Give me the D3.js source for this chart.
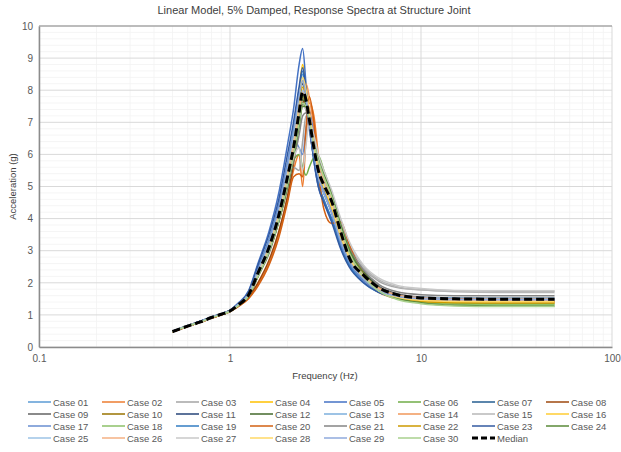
<!DOCTYPE html>
<head>
    <title>Response Spectra</title>
    <script src="https://d3js.org/d3.v7.min.js"></script>
    <style>
        body { margin: 0; background: #fff; }
        svg { font-family: "Liberation Sans", Arial, sans-serif; }
    </style>
</head>

<body>
<script>

// frequencies (Hz) shared by every case
const freq = [0.5,0.6,0.7,0.8,0.9,1.0,1.1,1.25,1.4,1.6,1.8,2.0,2.15,2.3,2.4,2.5,2.6,2.75,2.9,3.1,3.4,3.8,4.2,5.0,6.0,7.5,10,15,25,50];

// spectral acceleration (g) for each case
const case01 = [0.49,0.66,0.80,0.93,1.03,1.14,1.33,1.70,2.45,3.35,4.4,5.7,6.7,7.9,8.5,8.0,7.2,6.0,5.2,4.8,4.3,3.4,2.8,2.15,1.78,1.58,1.48,1.45,1.44,1.44];
const case02 = [0.47,0.64,0.77,0.90,1.00,1.10,1.26,1.52,1.95,2.6,3.5,4.6,5.5,6.0,5.0,6.5,7.6,7.2,6.0,5.0,4.3,3.3,2.6,2.05,1.7,1.5,1.42,1.38,1.37,1.37];
const case03 = [0.48,0.65,0.78,0.92,1.02,1.12,1.29,1.58,2.2,2.9,3.9,4.9,5.6,5.5,6.4,7.2,7.0,6.3,5.7,5.2,4.7,3.8,3.1,2.45,2.05,1.85,1.78,1.75,1.74,1.74];
const case04 = [0.48,0.66,0.79,0.93,1.03,1.13,1.32,1.66,2.4,3.2,4.2,5.5,6.5,7.9,8.8,8.1,7.2,6.1,5.4,4.9,4.3,3.4,2.75,2.1,1.75,1.55,1.46,1.43,1.42,1.42];
const case05 = [0.49,0.67,0.80,0.94,1.04,1.15,1.36,1.75,2.6,3.6,4.8,6.3,7.4,8.8,9.3,8.2,7.0,5.8,5.0,4.5,4.0,3.2,2.6,2.05,1.72,1.55,1.47,1.44,1.43,1.43];
const case06 = [0.48,0.65,0.78,0.91,1.01,1.11,1.28,1.6,2.25,3.0,4.0,5.1,5.8,6.0,5.6,5.35,5.6,5.9,5.95,5.5,4.8,3.7,3.0,2.3,1.82,1.55,1.42,1.36,1.34,1.34];
const case07 = [0.48,0.65,0.79,0.92,1.02,1.13,1.31,1.65,2.35,3.2,4.2,5.4,6.4,7.7,8.3,7.8,7.1,6.2,5.6,5.1,4.5,3.5,2.85,2.2,1.8,1.6,1.52,1.5,1.49,1.49];
const case08 = [0.47,0.64,0.77,0.90,1.0,1.1,1.27,1.55,2.0,2.7,3.6,4.7,5.7,7.0,7.6,7.7,7.4,6.5,5.8,5.2,4.6,3.6,2.9,2.25,1.83,1.6,1.5,1.47,1.46,1.46];
const case09 = [0.48,0.65,0.78,0.91,1.01,1.11,1.28,1.58,2.2,3.0,3.95,5.1,6.0,7.0,7.6,7.4,6.9,6.1,5.6,5.1,4.6,3.7,3.0,2.35,1.9,1.66,1.56,1.53,1.52,1.52];
const case10 = [0.48,0.65,0.79,0.92,1.02,1.12,1.3,1.6,2.3,3.1,4.1,5.2,6.1,7.2,7.8,7.5,7.0,6.2,5.6,5.2,4.6,3.6,2.9,2.2,1.78,1.57,1.47,1.43,1.42,1.42];
const case11 = [0.49,0.66,0.80,0.93,1.03,1.14,1.33,1.68,2.4,3.3,4.3,5.6,6.6,7.8,8.2,7.6,6.8,5.9,5.3,4.8,4.2,3.3,2.7,2.1,1.76,1.57,1.5,1.48,1.47,1.47];
const case12 = [0.48,0.65,0.78,0.92,1.02,1.12,1.3,1.62,2.3,3.1,4.0,5.2,6.1,7.1,7.7,7.6,7.2,6.4,5.8,5.3,4.7,3.8,3.1,2.35,1.85,1.6,1.48,1.44,1.43,1.43];
const case13 = [0.48,0.66,0.79,0.93,1.03,1.13,1.32,1.66,2.4,3.3,4.4,5.7,6.8,8.0,8.4,7.7,6.9,5.9,5.2,4.8,4.3,3.4,2.8,2.2,1.82,1.62,1.55,1.53,1.52,1.52];
const case14 = [0.48,0.65,0.78,0.91,1.01,1.11,1.28,1.6,2.2,3.0,4.0,5.3,6.4,7.6,7.9,8.2,7.8,6.8,5.9,5.3,4.6,3.6,2.9,2.25,1.84,1.62,1.53,1.5,1.49,1.49];
const case15 = [0.48,0.65,0.78,0.92,1.02,1.12,1.3,1.6,2.25,3.05,4.0,5.2,6.0,6.9,7.5,7.4,7.0,6.3,5.8,5.3,4.8,3.9,3.2,2.5,2.1,1.88,1.78,1.72,1.7,1.7];
const case16 = [0.48,0.66,0.79,0.92,1.03,1.13,1.31,1.65,2.35,3.2,4.2,5.5,6.5,7.7,8.3,7.9,7.1,6.0,5.4,4.9,4.3,3.4,2.75,2.15,1.76,1.56,1.47,1.44,1.43,1.43];
const case17 = [0.49,0.66,0.8,0.93,1.03,1.14,1.33,1.68,2.45,3.3,4.4,5.7,6.5,6.2,6.0,6.8,7.3,6.6,5.6,4.9,4.2,3.2,2.6,2.05,1.72,1.55,1.48,1.46,1.45,1.45];
const case18 = [0.48,0.65,0.78,0.91,1.01,1.11,1.29,1.6,2.25,3.05,4.05,5.2,6.1,7.2,7.8,7.7,7.2,6.3,5.7,5.2,4.6,3.6,2.9,2.2,1.76,1.52,1.4,1.34,1.32,1.32];
const case19 = [0.48,0.66,0.79,0.93,1.03,1.13,1.32,1.67,2.4,3.25,4.3,5.6,6.6,7.9,8.6,7.9,7.0,5.9,5.1,4.6,4.0,3.1,2.55,2.0,1.7,1.54,1.48,1.46,1.45,1.45];
const case20 = [0.47,0.64,0.77,0.9,1.0,1.1,1.25,1.5,1.9,2.55,3.4,4.5,5.3,5.4,5.3,6.8,7.8,7.0,5.5,4.3,3.85,3.9,3.2,2.3,1.8,1.55,1.45,1.42,1.41,1.41];
const case21 = [0.48,0.65,0.78,0.92,1.02,1.12,1.29,1.59,2.2,2.95,3.9,5.0,5.8,6.6,7.2,7.3,7.0,6.4,5.9,5.4,4.8,3.8,3.1,2.4,1.95,1.72,1.63,1.6,1.6,1.6];
const case22 = [0.48,0.65,0.79,0.92,1.02,1.12,1.31,1.63,2.3,3.1,4.1,5.3,6.3,7.5,8.1,7.8,7.1,6.1,5.5,5.0,4.4,3.5,2.8,2.15,1.75,1.52,1.42,1.38,1.37,1.37];
const case23 = [0.49,0.66,0.8,0.93,1.03,1.14,1.34,1.72,2.55,3.5,4.6,6.0,7.0,8.1,8.7,8.0,7.0,5.8,5.0,4.5,3.9,3.05,2.5,2.0,1.7,1.55,1.5,1.48,1.47,1.47];
const case24 = [0.48,0.65,0.78,0.91,1.01,1.11,1.28,1.58,2.2,2.95,3.9,5.0,5.9,6.9,7.5,7.5,7.1,6.4,5.9,5.4,4.8,3.8,3.05,2.3,1.8,1.52,1.38,1.3,1.28,1.28];
const case25 = [0.48,0.65,0.78,0.92,1.02,1.12,1.3,1.62,2.3,3.15,4.15,5.4,6.3,7.4,8.0,7.7,7.1,6.2,5.6,5.1,4.5,3.5,2.85,2.2,1.8,1.58,1.5,1.47,1.46,1.46];
const case26 = [0.48,0.65,0.78,0.91,1.01,1.11,1.29,1.6,2.25,3.05,4.05,5.2,6.2,7.3,7.9,7.8,7.3,6.4,5.7,5.2,4.6,3.6,2.9,2.25,1.82,1.6,1.5,1.46,1.45,1.45];
const case27 = [0.48,0.65,0.78,0.92,1.02,1.12,1.3,1.61,2.25,3.0,4.0,5.1,5.9,6.2,5.5,6.3,7.0,6.6,6.0,5.5,4.9,4.0,3.3,2.55,2.15,1.92,1.82,1.76,1.75,1.75];
const case28 = [0.48,0.66,0.79,0.92,1.02,1.13,1.31,1.64,2.35,3.2,4.2,5.5,6.5,7.7,8.4,8.0,7.3,6.2,5.5,5.0,4.4,3.45,2.8,2.15,1.76,1.55,1.46,1.42,1.41,1.41];
const case29 = [0.48,0.66,0.79,0.93,1.03,1.13,1.32,1.66,2.38,3.25,4.3,5.6,6.6,7.8,8.3,7.8,7.0,6.0,5.3,4.8,4.2,3.3,2.7,2.12,1.76,1.58,1.5,1.48,1.47,1.47];
const case30 = [0.48,0.65,0.78,0.91,1.01,1.11,1.28,1.59,2.2,2.98,3.95,5.1,6.0,7.0,7.6,7.5,7.1,6.3,5.8,5.3,4.7,3.7,2.95,2.2,1.75,1.48,1.35,1.28,1.26,1.26];
const median = [0.48,0.65,0.78,0.92,1.02,1.12,1.3,1.62,2.3,3.1,4.1,5.3,6.2,7.3,7.95,7.7,7.1,6.2,5.5,5.05,4.55,3.58,2.8,2.24,1.85,1.63,1.53,1.5,1.49,1.49];

const caseColors = ["#5B9BD5","#ED7D31","#A5A5A5","#FFC000","#4472C4","#70AD47","#255E91","#9E480E","#636363","#997300",
                    "#264478","#43682B","#7CAFDD","#F1975A","#B7B7B7","#FFCD33","#698ED0","#8CC168","#327DC2","#D26012",
                    "#848484","#CC9A00","#335AA1","#5A8A39","#9DC3E6","#F4B183","#C9C9C9","#FFD966","#8FAADC","#A9D18E"];

const xTicks = [0.1, 1, 10, 100];
const yTicks = [0,1,2,3,4,5,6,7,8,9,10];

const cases = [case01,case02,case03,case04,case05,case06,case07,case08,case09,case10,
               case11,case12,case13,case14,case15,case16,case17,case18,case19,case20,
               case21,case22,case23,case24,case25,case26,case27,case28,case29,case30];
const caseNames = cases.map((c, i) => "Case " + String(i + 1).padStart(2, "0"));

const w = 621;
const h = 452;
const plotLeft = 39, plotRight = 612, plotTop = 26, plotBottom = 347;

const svg = d3.select("body")
    .append("svg")
    .attr("width", w)
    .attr("height", h);

// scales
const xScale = d3.scaleLog().domain([0.1, 100]).range([plotLeft, plotRight]);
const yScale = d3.scaleLinear().domain([0, 10]).range([plotBottom, plotTop]);

// minor grid
const xMinor = [];
[0.1, 1, 10].forEach(d => { for (let k = 2; k <= 9; k++) xMinor.push(d * k); });
const yMinor = d3.range(0, 10.01, 0.2).filter(v => Math.abs(v - Math.round(v)) > 0.01);

svg.append("g").selectAll("line").data(xMinor).enter().append("line")
    .attr("x1", d => xScale(d)).attr("x2", d => xScale(d))
    .attr("y1", plotTop).attr("y2", plotBottom)
    .attr("stroke", "#f2f2f2").attr("stroke-width", 0.8);
svg.append("g").selectAll("line").data(yMinor).enter().append("line")
    .attr("x1", plotLeft).attr("x2", plotRight)
    .attr("y1", d => yScale(d)).attr("y2", d => yScale(d))
    .attr("stroke", "#f2f2f2").attr("stroke-width", 0.8);

// major grid
svg.append("g").selectAll("line").data(xTicks).enter().append("line")
    .attr("x1", d => xScale(d)).attr("x2", d => xScale(d))
    .attr("y1", plotTop).attr("y2", plotBottom)
    .attr("stroke", "#d9d9d9").attr("stroke-width", 1);
svg.append("g").selectAll("line").data(yTicks).enter().append("line")
    .attr("x1", plotLeft).attr("x2", plotRight)
    .attr("y1", d => yScale(d)).attr("y2", d => yScale(d))
    .attr("stroke", "#d9d9d9").attr("stroke-width", 1);

// top border
svg.append("line")
    .attr("x1", plotLeft).attr("x2", plotRight).attr("y1", plotTop).attr("y2", plotTop)
    .attr("stroke", "#8c8c8c").attr("stroke-width", 1);

// lines
const line = d3.line()
    .x((d, i) => xScale(freq[i]))
    .y(d => yScale(d))
    .curve(d3.curveMonotoneX);

svg.append("g").selectAll("path").data(cases).enter().append("path")
    .attr("d", d => line(d))
    .attr("fill", "none")
    .attr("stroke", (d, i) => caseColors[i])
    .attr("stroke-width", 1.5)
    .attr("stroke-linejoin", "round");

svg.append("path")
    .attr("d", line(median))
    .attr("fill", "none")
    .attr("stroke", "#000")
    .attr("stroke-width", 3)
    .attr("stroke-dasharray", "8,4");

// axes
const xAxis = d3.axisBottom(xScale).tickValues(xTicks).tickFormat(d => String(d)).tickSize(0).tickPadding(8);
const yAxis = d3.axisLeft(yScale).tickValues(yTicks).tickSize(0).tickPadding(6);

const gx = svg.append("g").attr("transform", "translate(0," + plotBottom + ")").call(xAxis);
const gy = svg.append("g").attr("transform", "translate(" + plotLeft + ",0)").call(yAxis);
[gx, gy].forEach(g => {
    g.select(".domain").attr("stroke", "#8c8c8c").attr("stroke-width", 1.5);
    g.selectAll("text").attr("fill", "#595959").style("font-size", "10px")
        .style("font-family", "'Liberation Sans', Arial, sans-serif");
});

// titles
svg.append("text")
    .attr("x", 314).attr("y", 14)
    .attr("text-anchor", "middle")
    .attr("fill", "#404040")
    .style("font-size", "11px")
    .text("Linear Model, 5% Damped, Response Spectra at Structure Joint");

svg.append("text")
    .attr("x", 325).attr("y", 379)
    .attr("text-anchor", "middle")
    .attr("fill", "#404040")
    .style("font-size", "9.5px")
    .text("Frequency (Hz)");

svg.append("text")
    .attr("transform", "translate(16," + ((plotTop + plotBottom) / 2) + ") rotate(-90)")
    .attr("text-anchor", "middle")
    .attr("fill", "#404040")
    .style("font-size", "9.5px")
    .text("Acceleration (g)");

// legend
const legendItems = caseNames.map((n, i) => ({ name: n, color: caseColors[i], dash: null }));
legendItems.push({ name: "Median", color: "#000", dash: "6,3" });

const lg = svg.append("g").selectAll("g").data(legendItems).enter().append("g")
    .attr("transform", (d, i) => "translate(" + (28 + (i % 8) * 74) + "," + (402 + Math.floor(i / 8) * 12) + ")");

lg.append("line")
    .attr("x1", 0).attr("x2", 23).attr("y1", 0).attr("y2", 0)
    .attr("stroke", d => d.color)
    .attr("stroke-width", d => d.dash ? 3 : 1.5)
    .attr("stroke-dasharray", d => d.dash);

lg.append("text")
    .attr("x", 25).attr("y", 3.5)
    .attr("fill", "#595959")
    .style("font-size", "9.5px")
    .text(d => d.name);

</script>
</body>
